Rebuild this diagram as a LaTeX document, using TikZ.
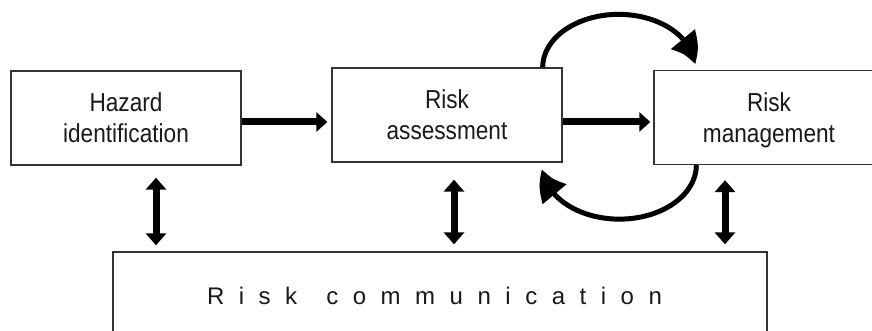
\documentclass[tikz,border=0pt]{standalone}
\usepackage{fontspec}
\setmainfont{Liberation Sans}
\newfontfamily\boxfont[FakeStretch=0.87]{Liberation Sans}
\usetikzlibrary{arrows.meta,bending}
\begin{document}
\begin{tikzpicture}[x=1pt,y=1pt,
  box/.style={draw=black!80, line width=1.3pt, minimum width=230pt, minimum height=94pt,
    inner sep=0pt, align=center, font=\boxfont\fontsize{26}{31}\selectfont,
    text depth=0pt, text=black!90},
  commbox/.style={draw=black!80, line width=1.3pt, minimum width=654pt, minimum height=88.6pt,
    inner sep=0pt, font=\fontsize{24}{28}\selectfont, text height=17.2pt, text depth=0pt, text=black!90},
  fat/.style={line width=7pt, -{Triangle[length=11pt,width=19pt]}},
  dbl/.style={line width=7pt, {Triangle[length=12pt,width=20pt]}-{Triangle[length=12pt,width=20pt]}},
  curvarrow/.style={line width=5pt, -{Triangle[length=28pt,width=30pt,bend]}}]
\useasboundingbox (0,0) rectangle (872,331);
\clip (0,0) rectangle (872,331);
\node[box] (haz) at (126,213) {Hazard\\identification};
\node[box] (ass) at (447,216) {Risk\\assessment};
\node[box] (man) at (769,213.5) {Risk\\management};
\node[commbox] (com) at (440,34.7) {\makebox[455pt][s]{R\hfill i\hfill s\hfill k\hfill\hfill c\hfill o\hfill m\hfill m\hfill u\hfill n\hfill i\hfill c\hfill a\hfill t\hfill i\hfill o\hfill n}\hspace*{11pt}};
\coordinate (v1) at (156,0);
\coordinate (v2) at (454,0);
\coordinate (v3) at (725,0);
% horizontal arrows
\draw[fat, shorten >=4pt] ([yshift=-4pt]haz.east) -- ([yshift=-7pt]ass.west);
\draw[fat, shorten >=3pt] ([yshift=-7pt]ass.east) -- ([yshift=-4.5pt]man.west);
% vertical double arrows
\draw[dbl, shorten <=12pt, shorten >=6pt] (haz.south -| v1) -- (com.north -| v1);
\draw[dbl, shorten <=17pt, shorten >=7pt] (ass.south -| v2) -- (com.north -| v2);
\draw[dbl, shorten <=15pt, shorten >=7pt] (man.south -| v3) -- (com.north -| v3);
% feedback arcs
\draw[curvarrow, shorten >=3pt] ([xshift=-20pt]ass.north east) arc[start angle=180, end angle=0, x radius=76pt, y radius=53pt];
\draw[curvarrow, shorten >=4pt] ([xshift=43pt]man.south west) arc[start angle=0, end angle=-180, x radius=77pt, y radius=54pt];
\end{tikzpicture}
\end{document}
